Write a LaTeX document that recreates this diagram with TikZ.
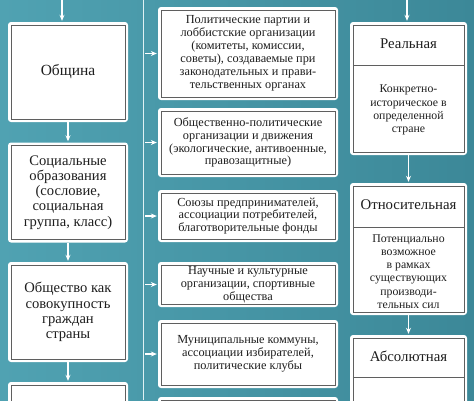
\documentclass[tikz,border=0pt]{standalone}
\usepackage{fontspec}
\setmainfont{Liberation Serif}
\usetikzlibrary{arrows.meta}

\definecolor{tealL}{RGB}{80,162,178}
\definecolor{tealM}{RGB}{126,200,208}
\definecolor{tealR}{RGB}{60,136,152}
\definecolor{ink}{RGB}{30,30,30}
\definecolor{frame}{RGB}{95,95,95}

\tikzset{
  card/.style={fill=white, rounded corners=3pt, inner sep=0pt, text=ink, align=center,
    path picture={\draw[frame, line width=0.8pt, sharp corners]
      ([shift={(3pt,3pt)}]path picture bounding box.south west) rectangle
      ([shift={(-3pt,-3pt)}]path picture bounding box.north east);}},
  leftcard/.style={card, minimum width=120pt, minimum height=100pt,
    font=\fontsize{14.6}{15.2}\selectfont},
  midcard/.style={card, minimum width=180pt, font=\fontsize{12.3}{12.9}\selectfont},
  rightcard/.style={card, minimum width=117pt},
  headtext/.style={text=ink, font=\fontsize{14.8}{15}\selectfont},
  bodytext/.style={text=ink, align=center, font=\fontsize{11.8}{13.2}\selectfont},
  divider/.style={frame, line width=0.8pt, shorten <=3pt, shorten >=3pt},
  arr/.style={white, line width=1.3pt, -{Stealth[length=6pt,width=5pt]}, shorten >=1pt},
  trunk/.style={white!75!tealM, line width=0.9pt}
}

\begin{document}
\begin{tikzpicture}[x=1pt, y=-1pt]
  \path[use as bounding box, clip] (0,0) rectangle (474,400);
  \shade[left color=tealL, middle color=tealM, right color=tealR] (0,0) rectangle (474,400);

  % left column
  \node[leftcard, font=\fontsize{15.5}{16}\selectfont] (obsh) at (68,72) {Община};
  \node[leftcard] (soc) at (68,192.5) {Социальные\\образования\\(сословие,\\социальная\\группа, класс)};
  \node[leftcard] (grazh) at (68,312) {Общество как\\совокупность\\граждан\\страны};
  \node[leftcard] (leftlast) at (68,432) {};

  \coordinate (inL) at (62,0);
  \draw[arr] (inL) -- (inL |- obsh.north);
  \draw[arr] (obsh) -- (soc);
  \draw[arr] (soc) -- (grazh);
  \draw[arr] (grazh) -- (leftlast);

  % middle column
  \coordinate (trunkTop) at (143,0);
  \coordinate (trunkBot) at (143,400);
  \draw[trunk] (trunkTop) -- (trunkBot);

  \node[midcard, minimum height=93pt] (partii) at (248,53.5)
    {Политические партии и\\лоббистские организации\\(комитеты, комиссии,\\советы), создаваемые при\\законодательных и прави-\\тельственных органах};
  \node[midcard, minimum height=69pt] (dvizh) at (248,142.5)
    {Общественно-политические\\организации и движения\\(экологические, антивоенные,\\правозащитные)};
  \node[midcard, minimum height=52pt] (soyuz) at (248,216)
    {Союзы предпринимателей,\\ассоциации потребителей,\\благотворительные фонды};
  \node[midcard, minimum height=45pt] (nauch) at (248,284.5)
    {Научные и культурные\\организации, спортивные\\общества};
  \node[midcard, minimum height=68pt] (munic) at (248,354)
    {Муниципальные коммуны,\\ассоциации избирателей,\\политические клубы};
  \node[midcard, minimum height=60pt] (midlast) at (248,427) {};

  \foreach \m in {partii, dvizh, soyuz, nauch, munic}
    \draw[arr, shorten <=2pt] (trunkTop |- \m.west) -- (\m.west);

  % right column
  \node[rightcard, minimum height=133pt] (real) at (408.5,88.5) {};
  \node[headtext] (realH) at (408.5,43.5) {Реальная};
  \coordinate (realD) at (408.5,65);
  \draw[divider] (real.west |- realD) -- (real.east |- realD);
  \node[bodytext] (realB) at (408.5,110) {Конкретно-\\историческое в\\определенной\\стране};

  \node[rightcard, minimum height=132pt] (otn) at (408.5,249) {};
  \node[headtext] (otnH) at (408.5,205) {Относительная};
  \coordinate (otnD) at (408.5,227);
  \draw[divider] (otn.west |- otnD) -- (otn.east |- otnD);
  \node[bodytext] (otnB) at (408.5,271.5) {Потенциально\\возможное\\в рамках\\существующих\\производи-\\тельных сил};

  \node[rightcard, minimum height=100pt] (abs) at (408.5,385) {};
  \node[headtext] (absH) at (408.5,356) {Абсолютная};
  \coordinate (absD) at (408.5,377);
  \draw[divider] (abs.west |- absD) -- (abs.east |- absD);

  \coordinate (inR) at (407,0);
  \draw[arr] (inR) -- (inR |- real.north);
  \draw[arr] (real) -- (otn);
  \draw[arr] (otn) -- (abs);
\end{tikzpicture}
\end{document}
